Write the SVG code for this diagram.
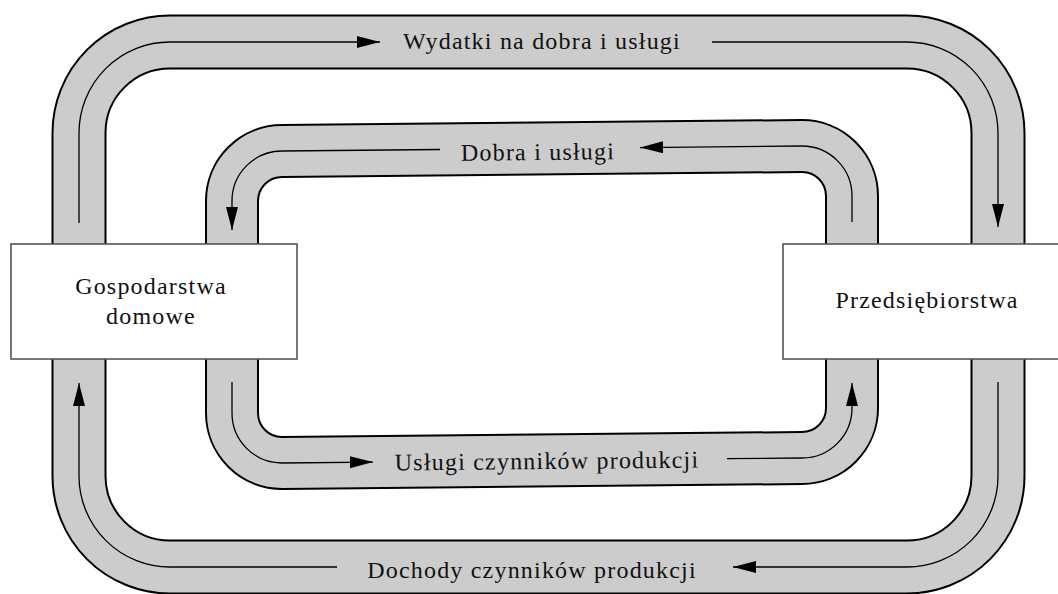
<svg xmlns="http://www.w3.org/2000/svg" width="1058" height="594" viewBox="0 0 1058 594">
<style>
.pipeB{fill:none;stroke:#000;stroke-width:55}
.pipeG{fill:none;stroke:#cccccc;stroke-width:51}
.pipeBi{fill:none;stroke:#000;stroke-width:54}
.pipeGi{fill:none;stroke:#cccccc;stroke-width:50}
.flow{fill:none;stroke:#000;stroke-width:1.3;marker-end:url(#ah)}
.lbl{font-family:"Liberation Serif","DejaVu Serif",serif;font-size:24px;letter-spacing:1.2px;fill:#111;text-anchor:middle}
.box{fill:#fff;stroke:#555;stroke-width:1.6}
</style>
<defs>
<marker id="ah" markerUnits="userSpaceOnUse" markerWidth="24" markerHeight="14" refX="23" refY="6" orient="auto">
<path d="M0,0 L23,6 L0,12 Z" fill="#000"/>
</marker>
</defs>
<rect width="1058" height="594" fill="#fff"/>
<g id="pipes">
<path class="pipeB" d="M170,42 L907,42 A91 91 0 0 1 998,133 L998,476 A91 91 0 0 1 907,567 L170,567 A91 91 0 0 1 79,476 L79,133 A91 91 0 0 1 170,42 Z"/>
<path class="pipeG" d="M170,42 L907,42 A91 91 0 0 1 998,133 L998,476 A91 91 0 0 1 907,567 L170,567 A91 91 0 0 1 79,476 L79,133 A91 91 0 0 1 170,42 Z"/>
<path class="pipeBi" d="M282,151 L802,146 A50 50 0 0 1 852,196 L852,408 A50 50 0 0 1 802,458 L282,463 A50 50 0 0 1 232,413 L232,201 A50 50 0 0 1 282,151 Z"/>
<path class="pipeGi" d="M282,151 L802,146 A50 50 0 0 1 852,196 L852,408 A50 50 0 0 1 802,458 L282,463 A50 50 0 0 1 232,413 L232,201 A50 50 0 0 1 282,151 Z"/>
</g>
<g id="connectors">
<path class="flow" d="M79,223 L79,133 A91 91 0 0 1 170,42 L380,42"/>
<path class="flow" d="M712,42 L907,42 A91 91 0 0 1 998,133 L998,227"/>
<path class="flow" d="M998,382 L998,476 A91 91 0 0 1 907,567 L733,567"/>
<path class="flow" d="M337,567 L170,567 A91 91 0 0 1 79,476 L79,383"/>
<path class="flow" d="M852,222 L852,196 A50 50 0 0 0 802,146 L640,147.6"/>
<path class="flow" d="M440,149.5 L282,151 A50 50 0 0 0 232,201 L232,230"/>
<path class="flow" d="M232,382 L232,413 A50 50 0 0 0 282,463 L373,462.1"/>
<path class="flow" d="M727,458.7 L802,458 A50 50 0 0 0 852,408 L852,383"/>
<text class="lbl" x="542" y="49">Wydatki na dobra i usługi</text>
<text class="lbl" x="538" y="160" transform="rotate(-0.55 538 155)">Dobra i usługi</text>
<text class="lbl" x="547" y="469" transform="rotate(-0.55 546 462)">Usługi czynników produkcji</text>
<text class="lbl" x="532" y="578">Dochody czynników produkcji</text>
</g>
<g id="gospodarstwa">
<rect class="box" x="11" y="244" width="286" height="115"/>
<text class="lbl" x="151" y="294">Gospodarstwa</text>
<text class="lbl" x="151" y="324">domowe</text>
</g>
<g id="przedsiebiorstwa">
<rect class="box" x="783" y="244" width="290" height="115"/>
<text class="lbl" x="927" y="308">Przedsiębiorstwa</text>
</g>
</svg>
